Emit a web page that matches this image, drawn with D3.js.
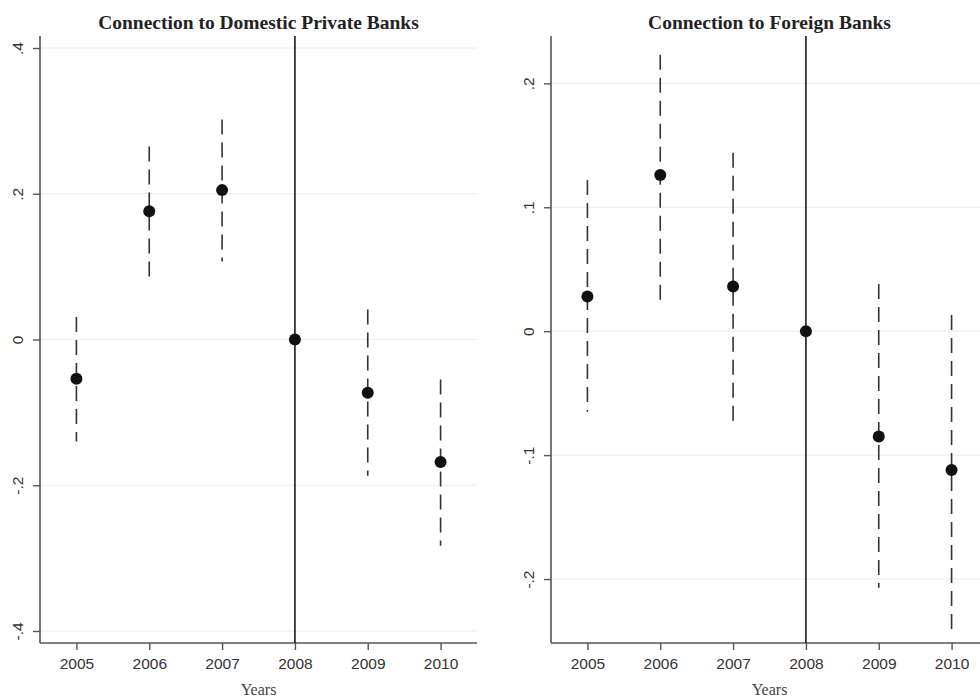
<!DOCTYPE html>
<html>
<head>
<meta charset="utf-8">
<script src="https://cdn.jsdelivr.net/npm/d3@7/dist/d3.min.js"></script>
<style>
  html, body { margin: 0; padding: 0; background: #fff; }
  svg { display: block; }
</style>
</head>
<body>
<svg id="chart" width="980" height="699"></svg>
<script>
// Event-study coefficients with 95% confidence intervals (2008 is the base year)
const years = [2005, 2006, 2007, 2008, 2009, 2010];
const referenceYear = 2008;

// Panel 1: connection to domestic private banks
const domesticTitle = "Connection to Domestic Private Banks";
const domesticCoef  = [-0.054, 0.176, 0.205, 0, -0.073, -0.168];
const domesticLower = [-0.140, 0.085, 0.107, null, -0.187, -0.283];
const domesticUpper = [ 0.031, 0.265, 0.302, null,  0.041, -0.055];
const domesticTicks = [-0.4, -0.2, 0, 0.2, 0.4];
const domesticTickLabels = ["-.4", "-.2", "0", ".2", ".4"];

// Panel 2: connection to foreign banks
const foreignTitle = "Connection to Foreign Banks";
const foreignCoef  = [0.028, 0.126, 0.036, 0, -0.085, -0.112];
const foreignLower = [-0.065, 0.024, -0.073, null, -0.207, -0.241];
const foreignUpper = [ 0.122, 0.223, 0.144, null,  0.038,  0.013];
const foreignTicks = [-0.2, -0.1, 0, 0.1, 0.2];
const foreignTickLabels = ["-.2", "-.1", "0", ".1", ".2"];

const xLabel = "Years";

const svg = d3.select("#chart");

function drawPanel(opts) {
  const { left, right, top, bottom, yDomain, title, coef, lower, upper, ticks, tickLabels } = opts;
  const g = svg.append("g");

  const x = d3.scaleLinear().domain([years[0] - 0.5, years[years.length - 1] + 0.5]).range([left, right]);
  const y = d3.scaleLinear().domain(yDomain).range([bottom, top]);

  // horizontal grid lines
  g.append("g").selectAll("line").data(ticks).join("line")
    .attr("x1", left).attr("x2", right)
    .attr("y1", d => y(d)).attr("y2", d => y(d))
    .attr("stroke", "#ececec").attr("stroke-width", 1);

  // y axis with rotated labels
  const yAxis = g.append("g").attr("transform", `translate(${left},0)`)
    .call(d3.axisLeft(y).tickValues(ticks).tickSize(7)
      .tickFormat((d, i) => tickLabels[i]));
  yAxis.select(".domain").attr("d", `M0,${top}V${bottom}`);
  yAxis.selectAll(".tick text")
    .attr("text-anchor", "middle")
    .attr("x", 0).attr("y", 0).attr("dy", 0)
    .attr("transform", "translate(-17,0) rotate(-90)");

  // x axis
  const xAxis = g.append("g").attr("transform", `translate(0,${bottom})`)
    .call(d3.axisBottom(x).tickValues(years).tickSize(7).tickPadding(8)
      .tickFormat(d3.format("d")));
  xAxis.select(".domain").attr("d", `M${left},0H${right}`);

  [yAxis, xAxis].forEach(a => {
    a.select(".domain").attr("stroke", "#555").attr("stroke-width", 1.6);
    a.selectAll(".tick line").attr("stroke", "#555").attr("stroke-width", 1.4);
    a.selectAll(".tick text")
      .attr("fill", "#333")
      .style("font-family", "'Liberation Sans', Arial, sans-serif")
      .style("font-size", "15.5px");
  });

  // reference year line
  g.append("line")
    .attr("x1", x(referenceYear)).attr("x2", x(referenceYear))
    .attr("y1", top).attr("y2", bottom)
    .attr("stroke", "#1a1a1a").attr("stroke-width", 1.6);

  const rows = years.map((yr, i) => ({ yr, c: coef[i], lo: lower[i], hi: upper[i] }));

  // confidence intervals
  g.append("g").selectAll("line").data(rows.filter(d => d.lo !== null)).join("line")
    .attr("x1", d => x(d.yr)).attr("x2", d => x(d.yr))
    .attr("y1", d => y(d.hi)).attr("y2", d => y(d.lo))
    .attr("stroke", "#333").attr("stroke-width", 1.6)
    .attr("stroke-dasharray", "15,8");

  // point estimates
  g.append("g").selectAll("circle").data(rows).join("circle")
    .attr("cx", d => x(d.yr)).attr("cy", d => y(d.c))
    .attr("r", 6).attr("fill", "#111");

  // title
  g.append("text")
    .attr("x", (left + right) / 2).attr("y", 29)
    .attr("text-anchor", "middle")
    .style("font-family", "'Liberation Serif', 'Times New Roman', serif")
    .style("font-weight", "bold").style("font-size", "19.5px")
    .attr("fill", "#222")
    .text(title);

  // x label
  g.append("text")
    .attr("x", (left + right) / 2).attr("y", 695)
    .attr("text-anchor", "middle")
    .style("font-family", "'Liberation Serif', 'Times New Roman', serif")
    .style("font-size", "16px")
    .attr("fill", "#444")
    .text(xLabel);
}

drawPanel({
  left: 40, right: 477, top: 36, bottom: 643,
  yDomain: [-0.4165, 0.4165],
  title: domesticTitle, coef: domesticCoef, lower: domesticLower, upper: domesticUpper,
  ticks: domesticTicks, tickLabels: domesticTickLabels
});

drawPanel({
  left: 551, right: 988, top: 36, bottom: 643,
  yDomain: [-0.2516, 0.2382],
  title: foreignTitle, coef: foreignCoef, lower: foreignLower, upper: foreignUpper,
  ticks: foreignTicks, tickLabels: foreignTickLabels
});
</script>
</body>
</html>
